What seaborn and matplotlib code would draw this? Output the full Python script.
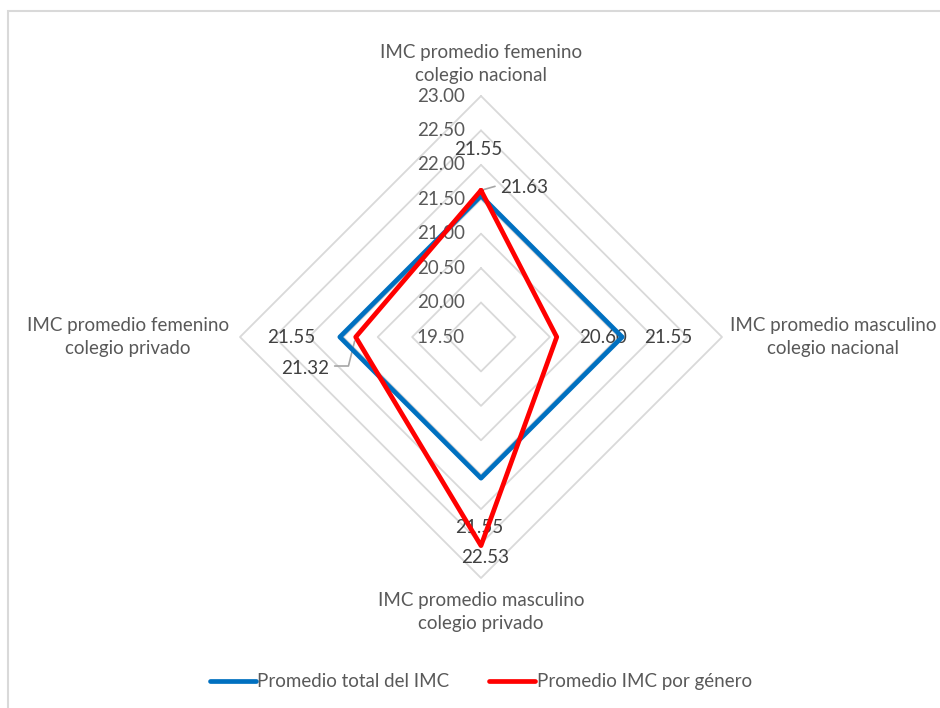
import numpy as np
import pandas as pd
import matplotlib
matplotlib.use("Agg")
import matplotlib.pyplot as plt
from matplotlib.lines import Line2D
from matplotlib.patches import Rectangle
import seaborn as sns

# --- data -------------------------------------------------------------
categories = [
    "IMC promedio femenino\ncolegio nacional",
    "IMC promedio masculino\ncolegio nacional",
    "IMC promedio masculino\ncolegio privado",
    "IMC promedio femenino\ncolegio privado",
]
series_names = ["Promedio total del IMC", "Promedio IMC por género"]
total_imc = [21.55, 21.55, 21.55, 21.55]
genero_imc = [21.63, 20.60, 22.53, 21.32]
ring_values = [19.50, 20.00, 20.50, 21.00, 21.50, 22.00, 22.50, 23.00]

colors = {"Promedio total del IMC": "#0070C0", "Promedio IMC por género": "#FF0000"}
txt_gray = "#595959"
val_gray = "#404040"
grid_gray = "#D9D9D9"
leader_gray = "#A6A6A6"

sns.set_theme(style="white")
plt.rcParams["font.family"] = ["Lato", "DejaVu Sans"]

fig = plt.figure(figsize=(9.4, 7.08), dpi=100)

# frame of the chart area
fig.patches.append(Rectangle((8 / 940, -0.01), 1.0, (708 - 11) / 708 + 0.01,
                             transform=fig.transFigure, fill=False,
                             edgecolor=grid_gray, linewidth=1.5, zorder=0))

ax = fig.add_axes([0.2553, 0.1836, 0.5128, 0.6808], projection="polar")
ax.set_theta_offset(np.pi / 2)
ax.set_theta_direction(-1)
ax.set_ylim(ring_values[0], ring_values[-1])
ax.grid(False)
ax.spines["polar"].set_visible(False)
ax.set_xticks([])
ax.set_yticks([])
ax.patch.set_alpha(0)

n = len(categories)
angles = np.linspace(0, 2 * np.pi, n, endpoint=False)
closed_angles = np.append(angles, 2 * np.pi)

# concentric diamond rings
for rv in ring_values[1:]:
    ax.plot(closed_angles, [rv] * (n + 1), color=grid_gray, lw=1.3, zorder=1,
            clip_on=False)

# radial scale labels along the top axis
for rv in ring_values:
    ax.annotate(f"{rv:.2f}", xy=(0, rv), xytext=(-16, 0),
                textcoords="offset pixels", ha="right", va="center",
                fontsize=13.5, color=txt_gray, zorder=2, annotation_clip=False)

# series
rows = []
for name, vals in zip(series_names, [total_imc, genero_imc]):
    for th, v in zip(closed_angles, vals + vals[:1]):
        rows.append({"theta": th, "value": v, "serie": name})
df = pd.DataFrame(rows)
sns.lineplot(data=df, x="theta", y="value", hue="serie", palette=colors,
             sort=False, estimator=None, linewidth=3.4, legend=False, ax=ax,
             zorder=4)
for ln in ax.lines[-2:]:
    ln.set_clip_on(False)
    ln.set_solid_joinstyle("round")
ax.set_xlabel("")
ax.set_ylabel("")

# category labels
cat_pos = [
    ((0, 12), "center", "bottom"),
    ((8, 0), "left", "center"),
    ((0, -14), "center", "top"),
    ((-11, 0), "right", "center"),
]
for th, cat, (off, ha, va) in zip(angles, categories, cat_pos):
    ax.annotate(cat, xy=(th, ring_values[-1]), xytext=off,
                textcoords="offset pixels", ha=ha, va=va, multialignment="center",
                fontsize=13.5, color=txt_gray, linespacing=1.4,
                annotation_clip=False)

# value labels
total_offsets = [(-3, 46), (46, 0), (-2, -49), (-49, 0)]
genero_offsets = [(43, 3), (46, 0), (4, -12), (-51, -31)]
for th, v, off in zip(angles, total_imc, total_offsets):
    ax.annotate(f"{v:.2f}", xy=(th, v), xytext=off, textcoords="offset pixels",
                ha="center", va="center", fontsize=13.5, color=val_gray,
                zorder=3, annotation_clip=False)
for th, v, off in zip(angles, genero_imc, genero_offsets):
    ax.annotate(f"{v:.2f}", xy=(th, v), xytext=off, textcoords="offset pixels",
                ha="center", va="center", fontsize=13.5, color=val_gray,
                zorder=3, annotation_clip=False)

# leader lines for the shifted labels
ax.annotate("", xy=(angles[0], genero_imc[0]), xytext=(14, 4),
            textcoords="offset pixels", annotation_clip=False,
            arrowprops=dict(arrowstyle="-", color=leader_gray, lw=1.2,
                            shrinkA=0, shrinkB=2))
ax.annotate("", xy=(angles[3], genero_imc[3]), xytext=(-21, -29),
            textcoords="offset pixels", annotation_clip=False,
            arrowprops=dict(arrowstyle="-", color=leader_gray, lw=1.2,
                            shrinkA=0, shrinkB=3,
                            connectionstyle="angle,angleA=0,angleB=76,rad=0"))

# legend
handles = [Line2D([0], [0], color=colors[s], lw=3.4, solid_capstyle="round")
           for s in series_names]
fig.legend(handles, series_names, loc="center", bbox_to_anchor=(0.5115, 0.037),
           ncol=2, frameon=False, fontsize=13.5, handlelength=2.45,
           handletextpad=0.1, columnspacing=2.1, labelcolor=txt_gray)

fig.savefig("out.png", dpi=100, facecolor="white")
